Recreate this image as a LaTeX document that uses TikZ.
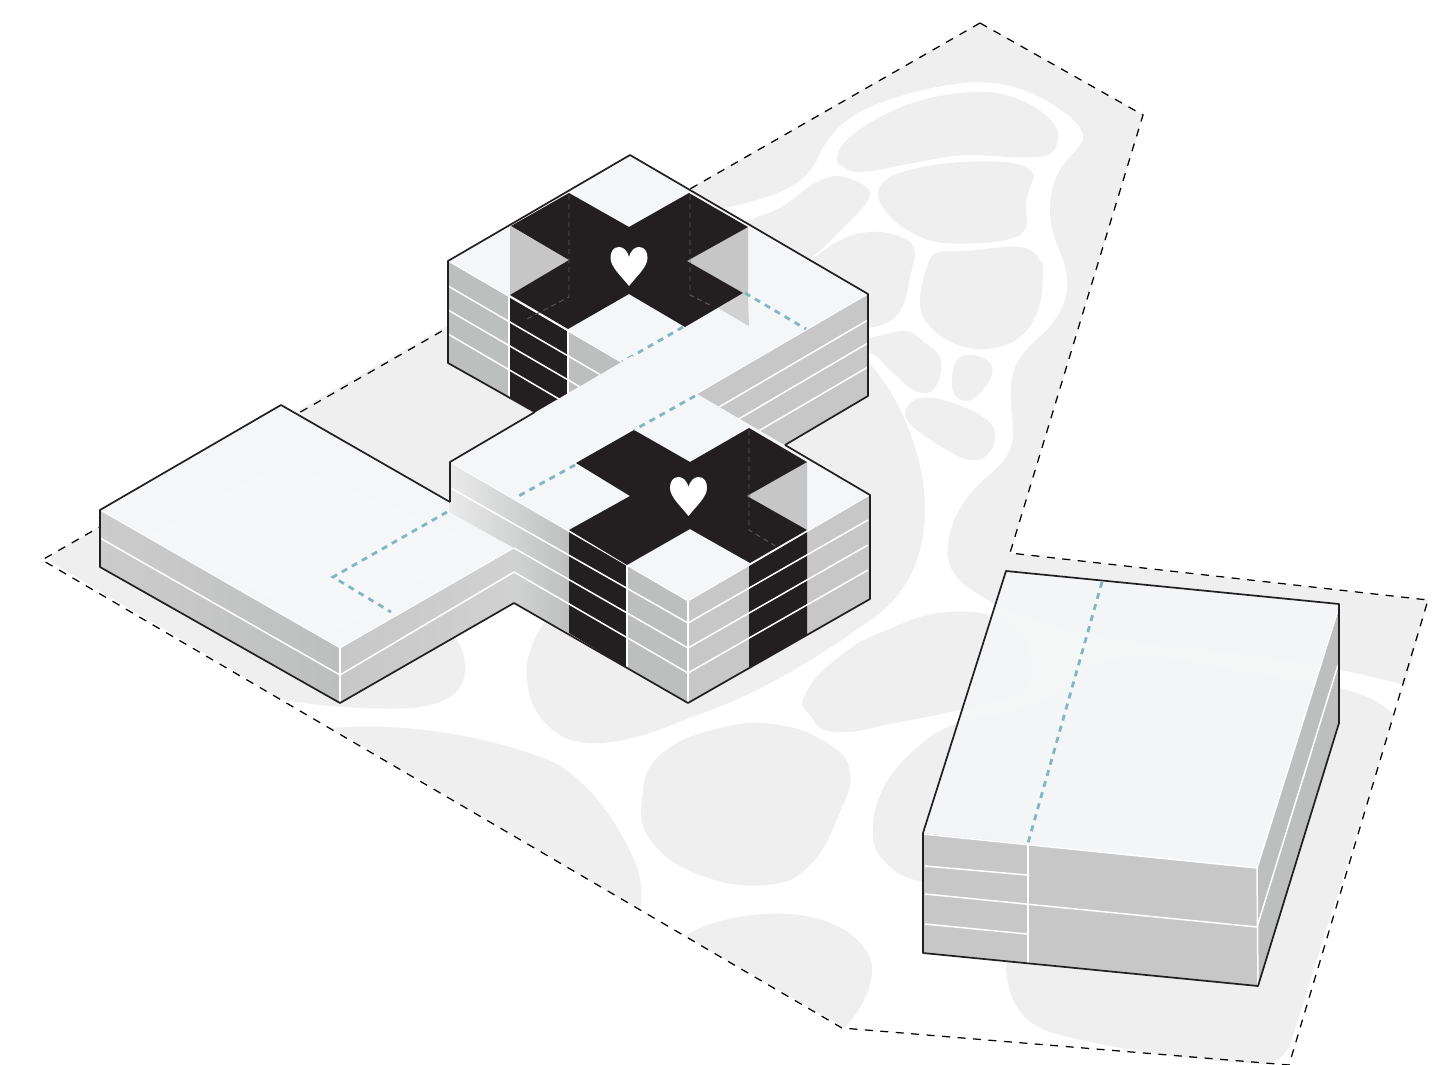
\documentclass[tikz,border=0pt]{standalone}
\usepackage{tikz}
\definecolor{ground}{HTML}{EFEFEF}
\definecolor{roof}{HTML}{F4F6F7}
\definecolor{roofglow}{HTML}{F6F7F8}
\definecolor{wallL}{HTML}{BDBEBE}
\definecolor{wallR}{HTML}{C7C7C7}
\definecolor{wellgrey}{HTML}{C6C6C6}
\definecolor{inkblack}{HTML}{231F20}
\definecolor{teal}{HTML}{82B6C1}
\newcommand\myheart[2]{\fill[white,shift={(#1,#2)}] (0,0) .. controls (2,-7) and (6,-10) .. (10,-10) .. controls (16,-10) and (18.5,-5) .. (18.5,1) .. controls (18.5,10) and (7,20) .. (0,29) .. controls (-7,20) and (-18.5,10) .. (-18.5,1) .. controls (-18.5,-5) and (-16,-10) .. (-10,-10) .. controls (-6,-10) and (-2,-7) .. (0,0) -- cycle;}
\tikzset{
 blob/.style={fill=ground,draw=none},
 boundary/.style={draw=black,line width=1.25pt,dash pattern=on 8pt off 7.5pt},
 edgeline/.style={draw=inkblack,line width=1.7pt,line join=round},
 floorline/.style={draw=white,line width=1.5pt},
 teal line/.style={draw=teal,line width=2.8pt,dash pattern=on 6pt off 5.5pt},
 ghost/.style={draw=gray!70!black,line width=0.9pt,dash pattern=on 5pt off 4pt},
 roofface/.style={fill=roof,fill opacity=0.88,draw=none},
}
\begin{document}
\begin{tikzpicture}[x=1pt,y=-1pt]
\useasboundingbox (0,0) rectangle (1444,1065);
\fill[white] (0,0) rectangle (1444,1065);
% --- ground ---
\fill[blob] (980,23) -- (1143,115) -- (1010,553) -- (1428,600) -- (1405,685)
 .. controls (1340,668) and (1290,660) .. (1233,653)
 .. controls (1170,647) and (1110,642) .. (1067,630)
 .. controls (1040,622) and (1000,610) .. (975,592)
 .. controls (955,580) and (945,565) .. (948,545)
 .. controls (950,520) and (965,495) .. (987,477)
 .. controls (1005,462) and (1014,450) .. (1013,430)
 .. controls (1012,410) and (1008,390) .. (1014,370)
 .. controls (1020,352) and (1035,342) .. (1047,330)
 .. controls (1062,312) and (1068,300) .. (1067,280)
 .. controls (1066,255) and (1050,240) .. (1050,210)
 .. controls (1050,185) and (1058,170) .. (1070,157)
 .. controls (1080,146) and (1085,140) .. (1083,134)
 .. controls (1078,120) and (1060,108) .. (1040,97)
 .. controls (1020,87) and (1000,82) .. (975,82)
 .. controls (945,83) and (895,95) .. (863,110)
 .. controls (840,122) and (825,140) .. (817,160)
 .. controls (808,178) and (790,190) .. (763,198)
 .. controls (745,204) and (730,207) .. (715,210)
 -- (690,330) -- (450,500) -- (290,415) -- cycle;
% centre blob
\fill[blob] (700,330) -- (800,340) -- (868,362)
 .. controls (895,390) and (925,450) .. (925,510)
 .. controls (925,555) and (908,590) .. (880,613)
 .. controls (830,650) and (760,695) .. (691,717)
 .. controls (650,735) and (600,752) .. (565,738)
 .. controls (535,722) and (525,695) .. (527,665)
 .. controls (530,640) and (545,620) .. (560,600) -- (600,450) -- cycle;
% ground round the left building
\fill[blob] (100,526) -- (56,552) .. controls (48,557) and (48,561) .. (56,565)
 -- (283,700) .. controls (320,706) and (370,710) .. (413,708)
 .. controls (445,704) and (462,695) .. (465,672)
 .. controls (466,660) and (462,648) .. (456,638) -- (340,600) -- cycle;
% bottom-left ground
\fill[blob] (332,728) .. controls (400,722) and (490,735) .. (555,763)
 .. controls (595,785) and (625,835) .. (638,870)
 .. controls (642,885) and (642,900) .. (640,910) -- cycle;
\fill[blob] plot[smooth cycle,tension=0.75] coordinates {(642,800)(660,755)(720,728)(780,725)(830,745)(850,772)(840,812)(810,865)(765,885)(700,875)(652,842)};
\fill[blob] (685,936) .. controls (710,920) and (750,912) .. (790,914)
 .. controls (830,917) and (865,935) .. (872,965)
 .. controls (873,990) and (860,1010) .. (845,1028) -- cycle;
\fill[blob] plot[smooth cycle,tension=0.8] coordinates {(805,695)(835,660)(882,632)(950,612)(1010,625)(1032,665)(1020,692)(980,705)(900,722)(835,732)(810,715)};
\fill[blob] plot[smooth cycle,tension=0.7] coordinates {(873,830)(885,785)(920,745)(960,722)(1010,712)(1060,698)(1100,730)(1080,820)(1000,880)(925,882)(885,862)};
\fill[blob] (1006,950) .. controls (1004,1000) and (1020,1025) .. (1060,1035)
 .. controls (1120,1050) and (1190,1060) .. (1262,1064)
 .. controls (1278,1063) and (1286,1055) .. (1291,1042)
 -- (1394,715) .. controls (1370,690) and (1320,682) .. (1270,676)
 .. controls (1220,668) and (1170,655) .. (1130,657)
 .. controls (1090,660) and (1060,680) .. (1040,720) -- cycle;
% upper blobs
\fill[blob] plot[smooth cycle,tension=0.65] coordinates {(837,157)(847,140)(880,117)(930,98)(987,92)(1027,103)(1053,123)(1058,140)(1047,155)(1013,157)(963,155)(913,163)(863,172)(843,167)};
\fill[blob] plot[smooth cycle,tension=0.65] coordinates {(878,193)(890,177)(923,167)(963,162)(1013,163)(1033,173)(1030,187)(1026,203)(1026,227)(1013,238)(980,243)(937,242)(907,230)(887,213)};
\fill[blob] plot[smooth cycle,tension=0.65] coordinates {(920,300)(927,267)(937,253)(967,251)(1020,247)(1040,260)(1043,277)(1038,310)(1020,337)(987,349)(953,343)(927,323)};
\fill[blob] plot[smooth cycle,tension=0.7] coordinates {(952,380)(957,360)(973,355)(990,363)(991,377)(980,393)(967,401)(955,395)};
\fill[blob] plot[smooth cycle,tension=0.7] coordinates {(905,413)(920,398)(953,403)(987,420)(995,437)(987,455)(970,460)(947,450)(917,430)};
\fill[blob] plot[smooth cycle,tension=0.6] coordinates {(835,346)(870,338)(905,331)(925,343)(940,357)(940,377)(930,392)(913,390)(893,373)(870,353)(840,358)};
\fill[blob] plot[smooth cycle,tension=0.6] coordinates {(790,300)(813,260)(847,237)(880,232)(907,240)(915,253)(910,277)(904,303)(892,320)(868,328)(820,332)};
\fill[blob] plot[smooth cycle,tension=0.55] coordinates {(730,232)(780,208)(813,184)(837,176)(862,184)(870,195)(858,213)(815,255)(770,290)(725,285)};
% --- site boundary ---
\draw[boundary] (980,23) -- (1143,115) -- (1010,553) -- (1428,600) -- (1289,1065) -- (842,1028) -- (42,560) -- cycle;
% --- upper building: walls ---
\fill[wallL] (448,261) -- (686,400) -- (686,502) -- (448,363) -- cycle;
\fill[wallR] (868,294) -- (686,400) -- (686,502) -- (868,396) -- cycle;
\fill[inkblack] (509,296) -- (568,330) -- (568,431) -- (509,397) -- cycle;
\draw[floorline] (448,286) -- (630,392) (448,310) -- (630,416) (448,334) -- (600,423);
\draw[floorline] (868,320) -- (690,424) (868,343) -- (720,430) (868,367) -- (750,436);
\draw[floorline] (509,296) -- (509,397) (568,330) -- (568,431);
% upper roof
\fill[roof] (630,155) -- (868,294) -- (686,400) -- (448,261) -- cycle;
\draw[floorline,line width=0.8pt] (448,261) -- (686,400) -- (868,294);
% wells
\fill[wellgrey] (510,226) -- (569,260) -- (510,295) -- cycle;
\fill[wellgrey] (748,227) -- (687,261) -- (743,293) -- (748,296) -- cycle;
\fill[wellgrey!80!white] (743,293) -- (748,296) -- (749,326) -- (718,308) -- cycle;
% upper X
\fill[inkblack] (569,193) -- (629,227) -- (689,193) -- (748,227) -- (687,261) -- (743,293) -- (685,327) -- (629,294) -- (568,329) -- (510,295) -- (569,260) -- (511,226) -- cycle;
\draw[ghost] (569,195) -- (569,297) -- (525,320);
\draw[ghost] (690,195) -- (690,295) -- (710,305);
\myheart{629}{257}
\draw[teal line] (745,293) -- (806,329);
\draw[teal line] (683,327) -- (622,362);
% --- left building ---
\path[left color=white!80!black,right color=wallL] (100,510) -- (340,648) -- (340,703) -- (100,567) -- cycle;
\path[left color=wallR,right color=white!82!black] (340,648) -- (514,548) -- (514,603) -- (340,703) -- cycle;
\fill[roof] (100,510) -- (281,405) -- (449,502) -- (449,512) -- (514,548) -- (340,648) -- cycle;
\fill[roofglow] (283,462) -- (480,543) -- (340,630) -- (147,537) -- cycle;
\draw[floorline] (100,538) -- (340,675) -- (514,572);
\draw[floorline] (340,648) -- (340,703);
\draw[floorline,line width=0.8pt] (100,510) -- (340,648) -- (514,548);
% --- lower building ---
\path[left color=white!92!black,right color=wallL] (449,462) -- (569,531) -- (569,633) -- (514,603) -- (514,548) -- (449,512) -- cycle;
\fill[wallL] (569,531) -- (688,601) -- (688,703) -- (569,633) -- cycle;
\fill[wallR] (688,601) -- (870,495) -- (870,599) -- (688,703) -- cycle;
\fill[inkblack] (569,530) -- (627,565) -- (627,668) -- (569,633) -- cycle;
\fill[inkblack] (749,565) -- (807,530) -- (807,635) -- (749,668) -- cycle;
\draw[floorline] (449,487) -- (688,623) -- (868,520);
\draw[floorline] (514,548) -- (688,648) -- (868,545);
\draw[floorline] (514,572) -- (688,673) -- (868,570);
\draw[floorline] (627,565) -- (627,668) (688,601) -- (688,703);
% lower roof
\fill[roof] (632,356) -- (870,495) -- (688,601) -- (450,462) -- cycle;
\draw[floorline,line width=0.9pt] (450,462) -- (688,601) -- (868,496);
% well
\fill[wellgrey] (807,462) -- (747,496) -- (807,530) -- cycle;
% lower X
\fill[inkblack] (634,430) -- (690,462) -- (749,428) -- (807,462) -- (747,496) -- (807,530) -- (750,563) -- (690,529) -- (627,565) -- (569,530) -- (630,496) -- (576,463) -- cycle;
\draw[ghost] (749,430) -- (749,530) -- (777,547);
\myheart{688.5}{487}
\draw[teal line] (695,396) -- (634,430);
\draw[teal line] (575,465) -- (515,498);
\draw[teal line] (447,512) -- (333,577) -- (391,612);
% --- outlines ---
\draw[edgeline] (535,412) -- (448,363) -- (448,261) -- (630,155) -- (868,294) -- (868,396) -- (785,445);
\draw[edgeline] (535,412) -- (450,462) -- (450,502);
\draw[edgeline] (785,445) -- (870,495) -- (870,599) -- (688,703) -- (514,603) -- (340,703) -- (100,567) -- (100,510) -- (281,405) -- (450,502);
% --- right building ---
\fill[wallR] (923,833) -- (1257,868) -- (1258,986) -- (923,953) -- cycle;
\fill[wallL] (1257,868) -- (1339,604) -- (1339,723) -- (1258,986) -- cycle;
\fill[roofface] (1006,571) -- (1339,604) -- (1257,868) -- (923,833) -- cycle;
\draw[floorline] (1028,845) -- (1028,964);
\draw[floorline] (925,866) -- (1027,875);
\draw[floorline] (925,894) -- (1257,927) -- (1338,665);
\draw[floorline] (925,924) -- (1027,934);
\draw[floorline] (1257,868) -- (1258,986);
\draw[floorline] (923,834) -- (1257,868) -- (1338,610);
\draw[teal line] (1102,582) -- (1028,843);
\draw[edgeline] (1006,571) -- (1339,604) -- (1339,723) -- (1258,986) -- (923,953) -- (923,833) -- cycle;
\end{tikzpicture}
\end{document}
